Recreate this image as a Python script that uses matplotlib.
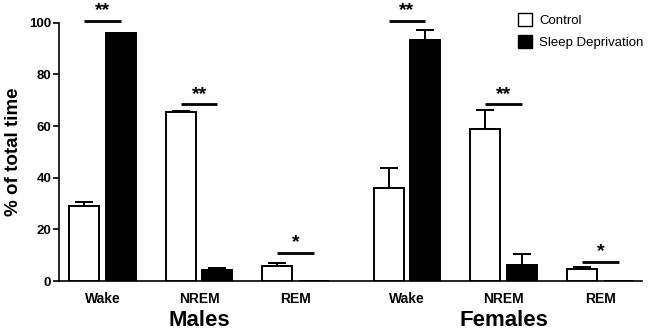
import numpy as np
import matplotlib
matplotlib.use("Agg")
import matplotlib.pyplot as plt

plt.rcParams['font.family'] = ['Liberation Sans', 'DejaVu Sans']

# data
stages = ["Wake", "NREM", "REM"]
groups = ["Males", "Females"]
males_ctrl = [29.0, 65.3, 5.8]
males_ctrl_err = [1.7, 0.5, 1.3]
males_sd = [95.9, 4.1, 0.0]
males_sd_err = [0.3, 0.8, 0.0]
fem_ctrl = [36.1, 58.7, 4.8]
fem_ctrl_err = [7.5, 7.5, 0.5]
fem_sd = [93.3, 6.2, 0.0]
fem_sd_err = [3.9, 4.1, 0.0]
sig_males = ["**", "**", "*"]
sig_fem = ["**", "**", "*"]
sig_y_males = [100.9, 68.5, 11.0]
sig_y_fem = [100.9, 68.5, 7.5]

# ---- layout ----
cat_x = np.array([0.0, 1.0, 2.0])
fem_shift = 3.152
off = 0.19
w = 0.31

fig = plt.figure(figsize=(6.5, 3.31), dpi=100)
ax = fig.add_axes([0.0915, 0.151, 0.8965, 0.780])

def draw_group(x0, ctrl, ctrl_err, sd, sd_err, sig, sig_y):
    xs = cat_x + x0
    ax.bar(xs - off, ctrl, width=w, color="white", edgecolor="black", linewidth=1.4, zorder=3)
    ax.bar(xs + off, sd, width=w, color="black", edgecolor="black", linewidth=1.4, zorder=3)
    for x, v, e in zip(xs - off, ctrl, ctrl_err):
        if e > 0:
            ax.errorbar(x, v, yerr=[[0], [e]], color="black", capsize=6.5, elinewidth=1.4,
                        capthick=1.4, zorder=2, clip_on=False)
    for x, v, e in zip(xs + off, sd, sd_err):
        if e > 0:
            ax.errorbar(x, v, yerr=[[0], [e]], color="black", capsize=6.5, elinewidth=1.4,
                        capthick=1.4, zorder=2, clip_on=False)
    for x, s, y in zip(xs, sig, sig_y):
        ax.plot([x - off, x + off], [y, y], color="black", lw=2, clip_on=False, solid_capstyle="butt")
        ax.text(x, y + 0.6, s, ha="center", va="bottom", fontsize=14, fontweight="bold")

draw_group(0.0, males_ctrl, males_ctrl_err, males_sd, males_sd_err, sig_males, sig_y_males)
draw_group(fem_shift, fem_ctrl, fem_ctrl_err, fem_sd, fem_sd_err, sig_fem, sig_y_fem)

ax.set_xlim(-0.445, 5.585)
ax.set_ylim(0, 100)
ax.set_yticks([0, 20, 40, 60, 80, 100])
ax.tick_params(axis="y", labelsize=9.5, width=1.2, length=4, pad=2)
for lab in ax.get_yticklabels():
    lab.set_fontweight("bold")

all_x = np.concatenate([cat_x, cat_x + fem_shift])
ax.set_xticks(all_x)
ax.set_xticklabels(stages * 2, fontsize=10, fontweight="bold")
ax.tick_params(axis="x", length=0, pad=8)

ax.spines["top"].set_visible(False)
ax.spines["right"].set_visible(False)
ax.spines["left"].set_linewidth(1.2)
ax.spines["bottom"].set_linewidth(1.2)

ax.set_ylabel("% of total time", fontsize=13.5, fontweight="bold")
ax.yaxis.set_label_coords(-0.064, 0.5)

for gx, g in zip([1.0, 1.0 + fem_shift], groups):
    ax.text(gx, -0.152, g, transform=ax.get_xaxis_transform(), ha="center", va="center",
            fontsize=16, fontweight="bold")

h1 = plt.Rectangle((0, 0), 1, 1, facecolor="white", edgecolor="black", linewidth=1)
h2 = plt.Rectangle((0, 0), 1, 1, facecolor="black", edgecolor="black", linewidth=1)
fig.legend([h1, h2], ["Control", "Sleep Deprivation"], loc="upper left",
           bbox_to_anchor=(0.782, 0.988), frameon=False, fontsize=9.5,
           handlelength=1.1, handleheight=1.1, handletextpad=0.55, labelspacing=0.6,
           borderaxespad=0.3)

fig.savefig("out.png", dpi=100)
